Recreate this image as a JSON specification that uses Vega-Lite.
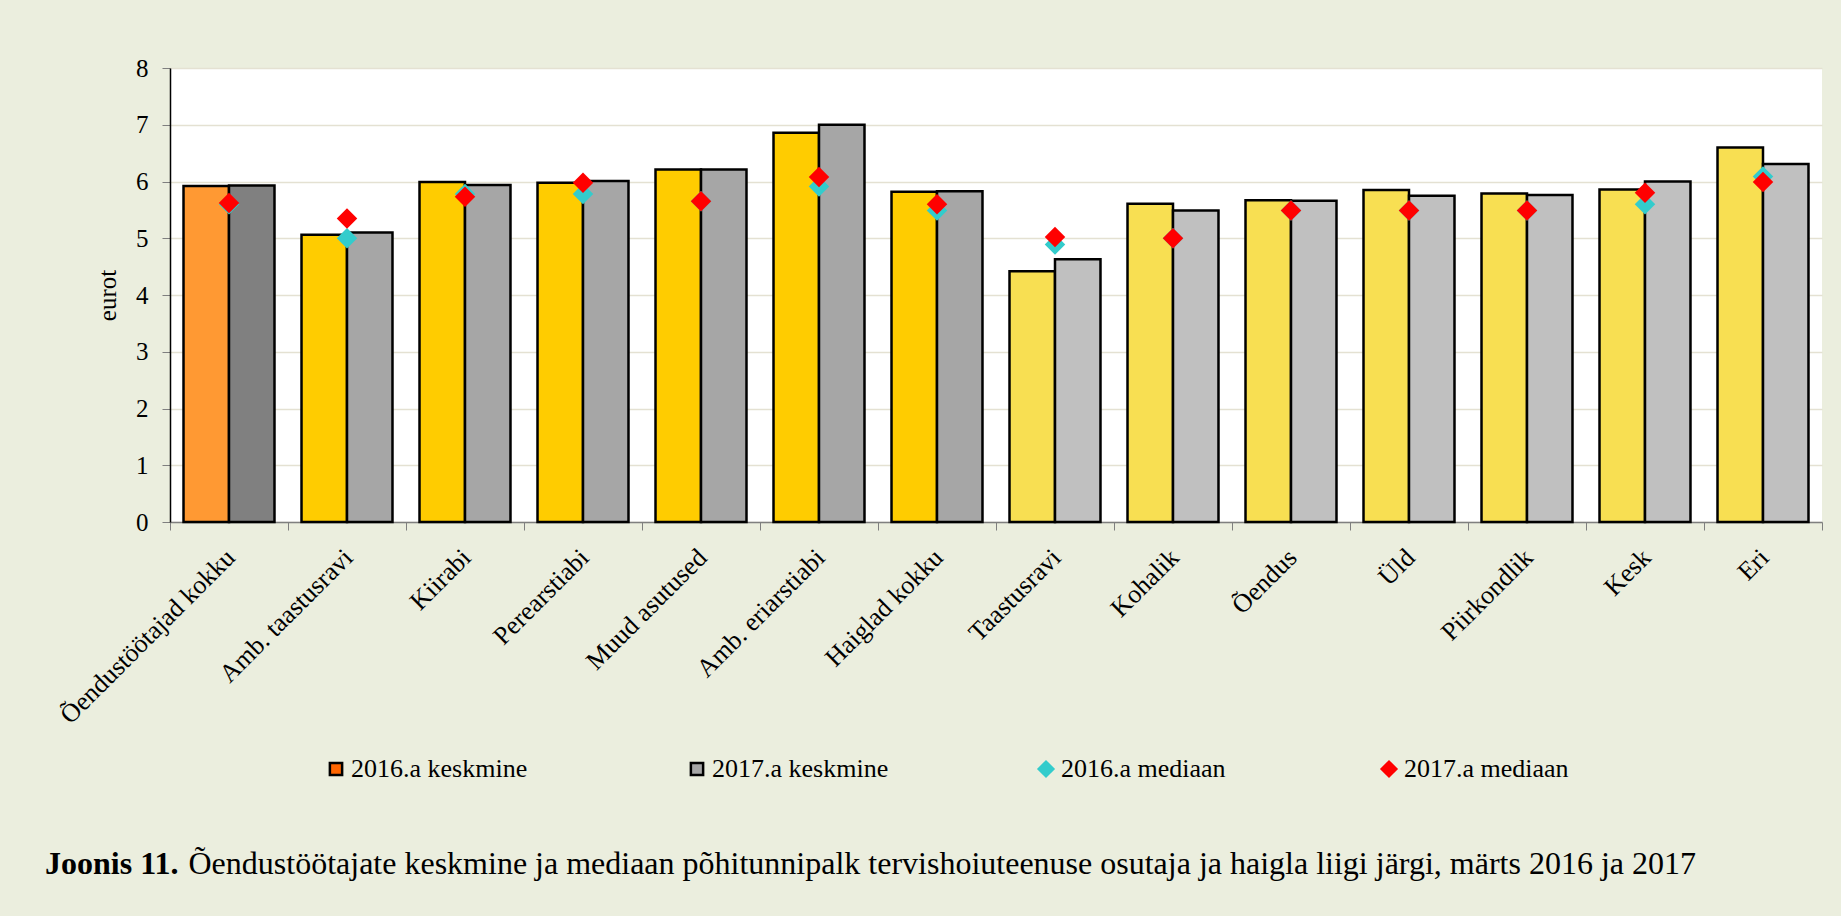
{
  "$schema": "https://vega.github.io/schema/vega-lite/v6.json",
  "width": 1652,
  "height": 454,
  "autosize": {"type": "none"},
  "padding": {"left": 170, "top": 68, "right": 19, "bottom": 394},
  "background": "#EBEEDE",
  "title": {
    "text": "Joonis 11.",
    "orient": "bottom",
    "anchor": "start",
    "frame": "bounds",
    "font": "Liberation Serif",
    "fontSize": 32,
    "fontWeight": "bold",
    "color": "black",
    "offset": 0,
    "dx": -10,
    "dy": -30
  },
  "data": {
    "values": [
      {"kat": "Õendustöötajad kokku", "grupp": "kokku", "aasta": "2016", "keskmine": 5.92, "mediaan": 5.60},
      {"kat": "Õendustöötajad kokku", "grupp": "kokku", "aasta": "2017", "keskmine": 5.93, "mediaan": 5.62},
      {"kat": "Amb. taastusravi", "grupp": "osutaja", "aasta": "2016", "keskmine": 5.06, "mediaan": 5.00},
      {"kat": "Amb. taastusravi", "grupp": "osutaja", "aasta": "2017", "keskmine": 5.10, "mediaan": 5.35},
      {"kat": "Kiirabi", "grupp": "osutaja", "aasta": "2016", "keskmine": 5.99, "mediaan": 5.78},
      {"kat": "Kiirabi", "grupp": "osutaja", "aasta": "2017", "keskmine": 5.94, "mediaan": 5.73},
      {"kat": "Perearstiabi", "grupp": "osutaja", "aasta": "2016", "keskmine": 5.98, "mediaan": 5.78},
      {"kat": "Perearstiabi", "grupp": "osutaja", "aasta": "2017", "keskmine": 6.01, "mediaan": 5.98},
      {"kat": "Muud asutused", "grupp": "osutaja", "aasta": "2016", "keskmine": 6.21, "mediaan": 5.65},
      {"kat": "Muud asutused", "grupp": "osutaja", "aasta": "2017", "keskmine": 6.21, "mediaan": 5.65},
      {"kat": "Amb. eriarstiabi", "grupp": "osutaja", "aasta": "2016", "keskmine": 6.86, "mediaan": 5.91},
      {"kat": "Amb. eriarstiabi", "grupp": "osutaja", "aasta": "2017", "keskmine": 7.00, "mediaan": 6.08},
      {"kat": "Haiglad kokku", "grupp": "osutaja", "aasta": "2016", "keskmine": 5.82, "mediaan": 5.49},
      {"kat": "Haiglad kokku", "grupp": "osutaja", "aasta": "2017", "keskmine": 5.83, "mediaan": 5.60},
      {"kat": "Taastusravi", "grupp": "haigla", "aasta": "2016", "keskmine": 4.42, "mediaan": 4.89},
      {"kat": "Taastusravi", "grupp": "haigla", "aasta": "2017", "keskmine": 4.63, "mediaan": 5.02},
      {"kat": "Kohalik", "grupp": "haigla", "aasta": "2016", "keskmine": 5.61, "mediaan": 5.00},
      {"kat": "Kohalik", "grupp": "haigla", "aasta": "2017", "keskmine": 5.49, "mediaan": 5.00},
      {"kat": "Õendus", "grupp": "haigla", "aasta": "2016", "keskmine": 5.67, "mediaan": 5.49},
      {"kat": "Õendus", "grupp": "haigla", "aasta": "2017", "keskmine": 5.66, "mediaan": 5.49},
      {"kat": "Üld", "grupp": "haigla", "aasta": "2016", "keskmine": 5.85, "mediaan": 5.49},
      {"kat": "Üld", "grupp": "haigla", "aasta": "2017", "keskmine": 5.75, "mediaan": 5.49},
      {"kat": "Piirkondlik", "grupp": "haigla", "aasta": "2016", "keskmine": 5.79, "mediaan": 5.49},
      {"kat": "Piirkondlik", "grupp": "haigla", "aasta": "2017", "keskmine": 5.76, "mediaan": 5.49},
      {"kat": "Kesk", "grupp": "haigla", "aasta": "2016", "keskmine": 5.86, "mediaan": 5.60},
      {"kat": "Kesk", "grupp": "haigla", "aasta": "2017", "keskmine": 6.00, "mediaan": 5.80},
      {"kat": "Eri", "grupp": "haigla", "aasta": "2016", "keskmine": 6.60, "mediaan": 6.09},
      {"kat": "Eri", "grupp": "haigla", "aasta": "2017", "keskmine": 6.31, "mediaan": 5.99}
    ]
  },
  "encoding": {
    "x": {
      "field": "kat",
      "type": "nominal",
      "sort": null,
      "scale": {"paddingInner": 0, "paddingOuter": 0},
      "axis": {
        "title": "Õendustöötajate keskmine ja mediaan põhitunnipalk tervishoiuteenuse osutaja ja haigla liigi järgi, märts 2016 ja 2017",
        "titleX": 18,
        "titleY": 351,
        "titleAlign": "left",
        "titleBaseline": "alphabetic",
        "titleFont": "Liberation Serif",
        "titleFontSize": 32,
        "titleFontWeight": "normal",
        "titleColor": "black",
        "labelAngle": -45,
        "labelFont": "Liberation Serif",
        "labelFontSize": 26,
        "labelColor": "black",
        "labelPadding": 14,
        "labelOffset": -8,
        "labelLimit": 0,
        "tickBand": "extent",
        "tickColor": "#7f7f7f",
        "tickSize": 8,
        "domainColor": "#7f7f7f",
        "domainWidth": 1.5,
        "grid": false
      }
    }
  },
  "layer": [
    {
      "transform": [{"calculate": "datum.grupp + ' ' + datum.aasta", "as": "voti"}],
      "mark": {"type": "bar", "stroke": "black", "strokeWidth": 2.5},
      "encoding": {
        "xOffset": {"field": "aasta", "type": "nominal", "scale": {"paddingInner": 0, "paddingOuter": 0.297}},
        "y": {
          "field": "keskmine",
          "type": "quantitative",
          "scale": {"domain": [0, 8], "nice": false},
          "axis": {
            "title": "eurot",
            "titleFont": "Liberation Serif",
            "titleFontSize": 25,
            "titleFontWeight": "normal",
            "titleColor": "black",
            "titlePadding": 15,
            "values": [0, 1, 2, 3, 4, 5, 6, 7, 8],
            "format": "d",
            "labelFont": "Liberation Serif",
            "labelFontSize": 25,
            "labelColor": "black",
            "labelPadding": 14,
            "tickColor": "#7f7f7f",
            "tickSize": 8,
            "domainColor": "black",
            "domainWidth": 1.5,
            "grid": true,
            "gridColor": "#E4E1D2",
            "gridWidth": 1.5
          }
        },
        "fill": {
          "field": "voti",
          "type": "nominal",
          "scale": {
            "domain": ["2016.a keskmine", "2017.a keskmine", "kokku 2016", "kokku 2017", "osutaja 2016", "osutaja 2017", "haigla 2016", "haigla 2017"],
            "range": ["#FF6600", "#A6A6A6", "#FF9933", "#808080", "#FFCC00", "#A6A6A6", "#F8DF52", "#C0C0C0"]
          },
          "legend": {
            "title": null,
            "values": ["2016.a keskmine", "2017.a keskmine"],
            "orient": "none",
            "legendX": 153,
            "legendY": 688,
            "direction": "horizontal",
            "columns": 2,
            "columnPadding": 156,
            "symbolType": "square",
            "symbolSize": 150,
            "symbolStrokeColor": "black",
            "symbolStrokeWidth": 2.5,
            "symbolOpacity": 1,
            "labelFont": "Liberation Serif",
            "labelFontSize": 26,
            "labelColor": "black",
            "labelLimit": 0,
            "labelOffset": 2
          }
        }
      }
    },
    {
      "transform": [{"calculate": "datum.aasta + '.a mediaan'", "as": "seeria"}],
      "mark": {"type": "point", "shape": "diamond", "filled": true, "size": 420, "opacity": 1, "strokeWidth": 0},
      "encoding": {
        "y": {"field": "mediaan", "type": "quantitative"},
        "color": {
          "field": "seeria",
          "type": "nominal",
          "scale": {
            "domain": ["2016.a mediaan", "2017.a mediaan"],
            "range": ["#33CCCC", "#FF0000"]
          },
          "legend": {
            "title": null,
            "orient": "none",
            "legendX": 863,
            "legendY": 688,
            "direction": "horizontal",
            "columns": 2,
            "columnPadding": 150,
            "symbolSize": 330,
            "symbolOpacity": 1,
            "symbolStrokeWidth": 0,
            "labelFont": "Liberation Serif",
            "labelFontSize": 26,
            "labelColor": "black",
            "labelLimit": 0,
            "labelOffset": 2
          }
        }
      }
    }
  ],
  "config": {
    "view": {"fill": "white", "stroke": null},
    "font": "Liberation Serif"
  }
}
